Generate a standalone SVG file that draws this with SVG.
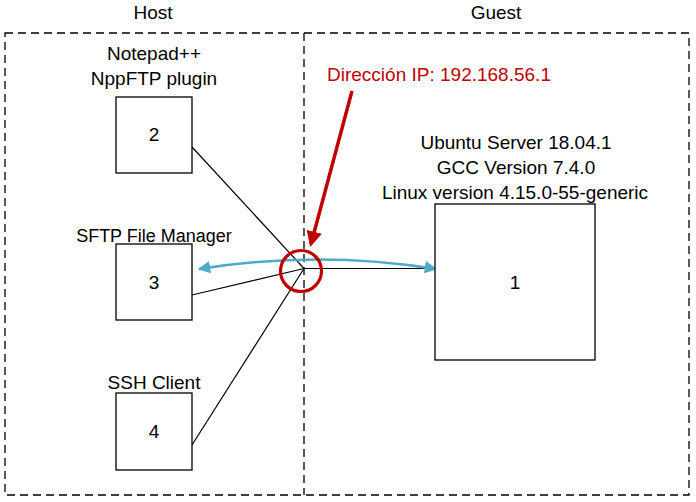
<svg xmlns="http://www.w3.org/2000/svg" width="696" height="502" viewBox="0 0 696 502">
<style>
text{font-family:"Liberation Sans",Arial,sans-serif;font-size:19px;fill:#000;text-anchor:middle}
.box{fill:#fff;stroke:#000;stroke-width:1.3}
.dash{fill:none;stroke:#000;stroke-width:1.3;stroke-dasharray:8,5}
.ln{stroke:#000;stroke-width:1.2;fill:none}
</style>
<defs>
<marker id="cy" viewBox="0 0 10 10" refX="9" refY="5" markerWidth="5" markerHeight="5" orient="auto-start-reverse"><path d="M0,0L10,5L0,10z" fill="#4BACC6"/></marker>
<marker id="rd" viewBox="0 0 10 10" refX="8" refY="5" markerWidth="4.5" markerHeight="4.5" orient="auto"><path d="M0,0L10,5L0,10z" fill="#C00000"/></marker>
</defs>
<rect width="696" height="502" fill="#fff"/>
<g id="regions">
<rect class="dash" x="5" y="33" width="684" height="462"/>
<line class="dash" x1="304" y1="33" x2="304" y2="495"/>
<text x="153" y="19">Host</text>
<text x="496" y="19">Guest</text>
</g>
<g id="connectors">
<line class="ln" x1="192" y1="147" x2="304" y2="268.5"/>
<line class="ln" x1="192" y1="295" x2="304" y2="268.5"/>
<line class="ln" x1="192" y1="445" x2="304" y2="268.5"/>
<line class="ln" x1="304" y1="268.5" x2="435" y2="268.5"/>
<path d="M199,269 Q318,250 436,269" fill="none" stroke="#4BACC6" stroke-width="2.5" marker-start="url(#cy)" marker-end="url(#cy)"/>
<circle cx="301" cy="271" r="20.5" fill="none" stroke="#C00000" stroke-width="3.2"/>
<line x1="352" y1="91" x2="311" y2="244" stroke="#C00000" stroke-width="3.5" marker-end="url(#rd)"/>
<text x="439" y="81" style="fill:#C00000">Dirección IP: 192.168.56.1</text>
</g>
<g id="node2">
<rect class="box" x="116" y="97" width="76" height="76"/>
<text x="154" y="141">2</text>
<text x="154" y="60">Notepad++</text>
<text x="154" y="85">NppFTP plugin</text>
</g>
<g id="node3">
<rect class="box" x="116" y="244" width="76" height="76"/>
<text x="154" y="289">3</text>
<text x="154" y="242" style="font-size:18px">SFTP File Manager</text>
</g>
<g id="node4">
<rect class="box" x="116" y="393" width="76" height="77"/>
<text x="154" y="438">4</text>
<text x="154" y="389">SSH Client</text>
</g>
<g id="node1">
<rect class="box" x="435" y="204" width="160" height="156"/>
<text x="515" y="289">1</text>
<text x="516" y="149">Ubuntu Server 18.04.1</text>
<text x="516" y="174">GCC Version 7.4.0</text>
<text x="515" y="199">Linux version 4.15.0-55-generic</text>
</g>
</svg>
